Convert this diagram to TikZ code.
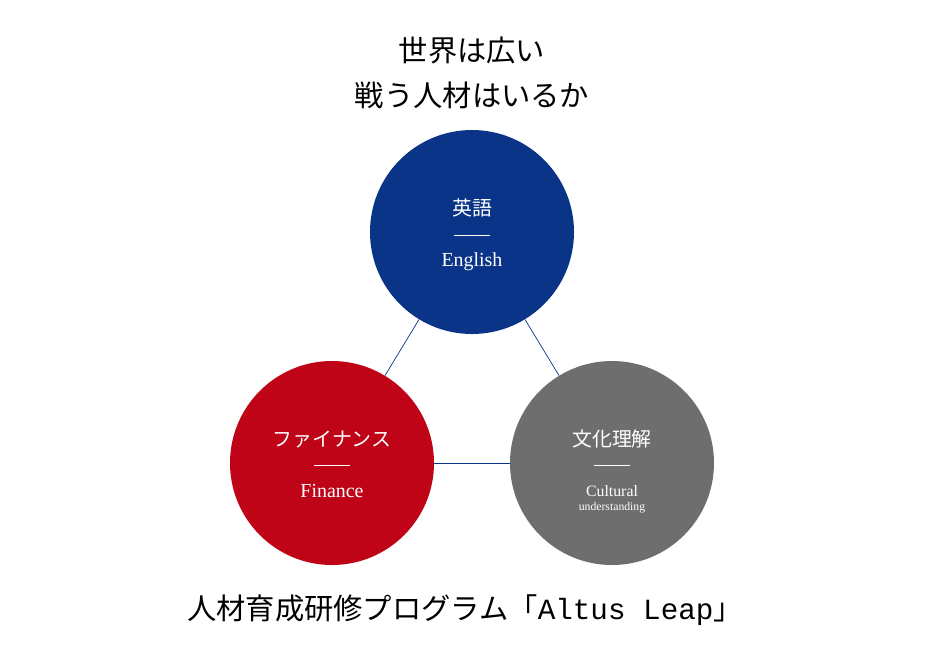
\documentclass[tikz,border=0pt]{standalone}
\usepackage{fontspec}
\setmainfont{Liberation Serif}
\newfontfamily\jp{Noto Sans CJK JP}
\newfontfamily\mono{Liberation Mono}
\definecolor{skyblue}{HTML}{0A3487}
\definecolor{crimson}{HTML}{C00418}
\definecolor{slate}{HTML}{6E6E6E}
\tikzset{
  skill/.style={circle, minimum size=6.12cm, inner sep=0pt, text=white, align=center},
  link/.style={draw=skyblue, line width=0.6pt},
  bar/.style={draw=white, line width=0.6pt}
}
\begin{document}
\begin{tikzpicture}[x=0.03cm, y=-0.03cm]
            \useasboundingbox (0, 0) rectangle (945, 658);

            \node[skill, fill=skyblue] (eng) at (472, 232) {};
            \node[skill, fill=crimson] (fin) at (332, 463) {};
            \node[skill, fill=slate] (cul) at (612, 463) {};

            \begin{scope}[on background layer/.try]
            \end{scope}
            \draw[link] (eng) -- (fin);
            \draw[link] (eng) -- (cul);
            \draw[link] (fin) -- (cul);

            % titles
            \node (title1) at (472, 50) {\jp\fontsize{25}{28}\selectfont 世界は広い};
            \node (title2) at (472, 95) {\jp\fontsize{25}{28}\selectfont 戦う人材はいるか};
            \node (prog) at (465, 610) {\jp\fontsize{25}{28}\selectfont 人材育成研修プログラム「{\mono Altus Leap}」};

            % circle labels
            \node[text=white] (engjp) at (472, 208) {\jp\fontsize{17}{20}\selectfont 英語};
            \draw[bar] (454, 235) -- (490, 235);
            \node[text=white] (engen) at (472, 262) {\fontsize{17}{20}\selectfont English};

            \node[text=white] (finjp) at (332, 439) {\jp\fontsize{17}{20}\selectfont ファイナンス};
            \draw[bar] (314, 465) -- (350, 465);
            \node[text=white] (finen) at (332, 491) {\fontsize{17}{20}\selectfont Finance};

            \node[text=white] (culjp) at (612, 439) {\jp\fontsize{17}{20}\selectfont 文化理解};
            \draw[bar] (594, 465) -- (630, 465);
            \node[text=white, align=center] (culen) at (612, 499) {\fontsize{13.5}{20}\selectfont Cultural\\ understanding};
\end{tikzpicture}
\end{document}
